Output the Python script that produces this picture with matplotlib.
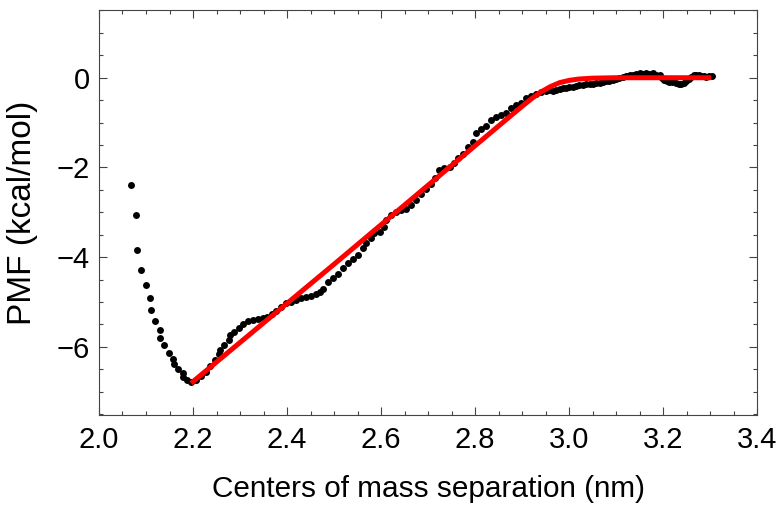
import numpy as np
import matplotlib
matplotlib.use('Agg')
import matplotlib.pyplot as plt
from matplotlib.ticker import MultipleLocator

plt.rcParams['font.family'] = ['Liberation Sans', 'DejaVu Sans']

# ---------- PMF data points ---------- #

sep = [2.069, 2.079, 2.080, 2.089, 2.099, 2.109, 2.110, 2.119, 2.129, 2.130,
       2.139, 2.149, 2.158, 2.159, 2.168, 2.178, 2.179, 2.187, 2.196, 2.207,
       2.217, 2.227, 2.237, 2.246, 2.256, 2.257, 2.267, 2.277, 2.279, 2.287,
       2.297, 2.307, 2.317, 2.327, 2.338, 2.349, 2.358, 2.368, 2.377, 2.388,
       2.398, 2.409, 2.420, 2.430, 2.441, 2.451, 2.462, 2.470, 2.476, 2.487,
       2.497, 2.508, 2.519, 2.529, 2.540, 2.551, 2.561, 2.569, 2.579, 2.586,
       2.597, 2.607, 2.611, 2.622, 2.632, 2.643, 2.654, 2.664, 2.675, 2.686,
       2.696, 2.707, 2.714, 2.724, 2.735, 2.746, 2.756, 2.763, 2.774, 2.785,
       2.795, 2.803, 2.813, 2.824, 2.834, 2.845, 2.856, 2.866, 2.877, 2.888,
       2.898, 2.909, 2.920, 2.930, 2.941, 2.951, 2.958, 2.966, 2.973, 2.980,
       2.987, 2.994, 3.001, 3.008, 3.015, 3.022, 3.029, 3.036, 3.044, 3.051,
       3.058, 3.065, 3.072, 3.079, 3.086, 3.093, 3.100, 3.107, 3.114, 3.121,
       3.129, 3.136, 3.143, 3.150, 3.157, 3.164, 3.171, 3.178, 3.186, 3.193,
       3.198, 3.203, 3.208, 3.213, 3.220, 3.228, 3.234, 3.239, 3.244, 3.249,
       3.255, 3.260, 3.266, 3.271, 3.276, 3.281, 3.287, 3.292, 3.297, 3.304]

pmf = [-2.39, -3.05, -3.85, -4.29, -4.62, -4.92, -5.18, -5.42, -5.63, -5.81,
       -5.97, -6.13, -6.27, -6.38, -6.49, -6.59, -6.68, -6.75, -6.79, -6.73,
       -6.65, -6.56, -6.43, -6.29, -6.16, -6.06, -5.96, -5.85, -5.74, -5.66,
       -5.57, -5.48, -5.42, -5.40, -5.39, -5.36, -5.33, -5.27, -5.21, -5.11,
       -5.03, -4.99, -4.96, -4.92, -4.89, -4.86, -4.82, -4.78, -4.70, -4.55,
       -4.46, -4.37, -4.25, -4.12, -4.05, -3.95, -3.80, -3.69, -3.58, -3.47,
       -3.43, -3.32, -3.17, -3.06, -2.99, -2.95, -2.92, -2.84, -2.73, -2.60,
       -2.48, -2.36, -2.24, -2.06, -2.02, -1.98, -1.90, -1.80, -1.69, -1.54,
       -1.43, -1.24, -1.15, -1.08, -0.94, -0.87, -0.83, -0.78, -0.68, -0.61,
       -0.56, -0.46, -0.41, -0.36, -0.32, -0.30, -0.28, -0.29, -0.27, -0.25,
       -0.24, -0.22, -0.20, -0.20, -0.18, -0.16, -0.16, -0.15, -0.14, -0.13,
       -0.12, -0.11, -0.10, -0.08, -0.07, -0.05, -0.03, -0.01, 0.01, 0.03,
       0.05, 0.07, 0.09, 0.10, 0.09, 0.10, 0.09, 0.10, 0.07, 0.05,
       0.00, -0.05, -0.08, -0.09, -0.10, -0.12, -0.13, -0.13, -0.11, -0.08,
       -0.02, 0.02, 0.05, 0.06, 0.05, 0.04, 0.03, 0.02, 0.03, 0.04]

# ---------- fitted curve (knots) ---------- #

fit_x = [2.196, 2.500, 2.877, 2.900, 2.920, 2.940, 2.960, 2.980, 3.000,
         3.020, 3.050, 3.100, 3.302]
fit_y = [-6.81, -4.16, -0.84, -0.64, -0.47, -0.32, -0.20, -0.11, -0.06,
         -0.03, -0.01, 0.00, 0.00]

# ----------------------------------------- #

fig = plt.figure(figsize=(7.76, 5.05), dpi=100)
ax = fig.add_axes([99/776, 90/505, 658/776, 405/505])

ax.plot(sep, pmf, 'o', color='black', markersize=5, markeredgewidth=0, zorder=2)
ax.plot(fit_x, fit_y, '-', color='red', linewidth=3.6, solid_capstyle='butt', zorder=3)

ax.set_xlim(2.0, 3.4)
ax.set_ylim(-7.52, 1.51)
ax.xaxis.set_major_locator(MultipleLocator(0.2))
ax.xaxis.set_minor_locator(MultipleLocator(0.05))
ax.yaxis.set_major_locator(MultipleLocator(2))
ax.yaxis.set_minor_locator(MultipleLocator(0.5))
ax.xaxis.set_major_formatter(plt.FuncFormatter(lambda v, p: '{:.1f}'.format(v)))

ax.tick_params(which='both', direction='in', top=True, right=True,
               color='#444444', width=0.8, labelsize=21)
ax.tick_params(which='major', length=5.5)
ax.tick_params(which='minor', length=3)
ax.tick_params(axis='x', pad=8)
ax.tick_params(axis='y', pad=6.5)
for s in ax.spines.values():
    s.set_color('#444444')
    s.set_linewidth(0.8)

ax.set_xlabel('Centers of mass separation (nm)', fontsize=21.4)
ax.set_ylabel('PMF (kcal/mol)', fontsize=24)
ax.xaxis.set_label_coords(0.5, -0.148)
ax.yaxis.set_label_coords(-0.0925, 0.5)

fig.savefig('out.png', dpi=100)
